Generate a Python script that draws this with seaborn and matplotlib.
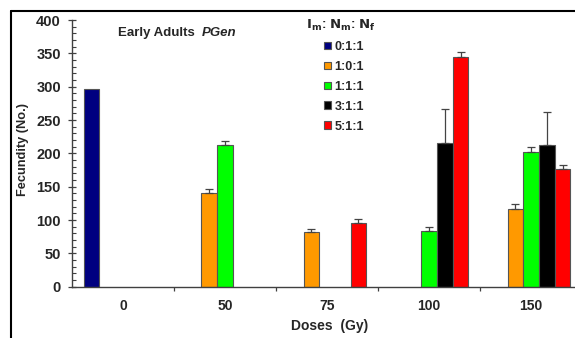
import matplotlib
matplotlib.use("Agg")
import matplotlib.pyplot as plt
from matplotlib.lines import Line2D
from matplotlib.patches import Patch
from matplotlib.ticker import MultipleLocator
import numpy as np
import pandas as pd
import seaborn as sns

# Data
doses = ["0", "50", "75", "100", "150"]
ratios = ["0:1:1", "1:0:1", "1:1:1", "3:1:1", "5:1:1"]
colors = ["#000080", "#FF9900", "#00FF00", "#000000", "#FF0000"]

fec_011 = [297, np.nan, np.nan, np.nan, np.nan]
fec_101 = [np.nan, 140, 82, np.nan, 117]
fec_111 = [np.nan, 212, np.nan, 83, 202]
fec_311 = [np.nan, np.nan, np.nan, 216, 212]
fec_511 = [np.nan, np.nan, 95, 345, 176]

err_011 = [0, np.nan, np.nan, np.nan, np.nan]
err_101 = [np.nan, 6, 5, np.nan, 7]
err_111 = [np.nan, 7, np.nan, 7, 7]
err_311 = [np.nan, np.nan, np.nan, 50, 50]
err_511 = [np.nan, np.nan, 6, 6.5, 6]

values = [fec_011, fec_101, fec_111, fec_311, fec_511]
errors = [err_011, err_101, err_111, err_311, err_511]

rows = []
for r, vals, errs in zip(ratios, values, errors):
    for d, v, e in zip(doses, vals, errs):
        if not np.isnan(v):
            rows.append({"dose": d, "ratio": r, "value": v, "err": e})
df = pd.DataFrame(rows)

sns.set_style("white")
plt.rcParams["font.family"] = ["Liberation Sans", "DejaVu Sans"]
plt.rcParams["font.weight"] = "bold"

fig = plt.figure(figsize=(5.75, 3.38), dpi=100)
ax = fig.add_axes([72 / 575, 1 - 286.7 / 338, 1 - 72 / 575, (286.7 - 20) / 338])

sns.barplot(data=df, x="dose", y="value", hue="ratio", order=doses,
            hue_order=ratios, palette=colors, saturation=1, width=0.77,
            errorbar=None, edgecolor="#555555", linewidth=0.8, legend=False, ax=ax)

# upper-only error bars on each drawn bar
for cont, r in zip(ax.containers, ratios):
    sub = df[df["ratio"] == r].set_index("dose")
    for bar in cont:
        x = bar.get_x() + bar.get_width() / 2
        d = doses[int(round(x))]
        e = sub.loc[d, "err"]
        if e > 0:
            ax.errorbar(x, bar.get_height(), yerr=[[0], [e]], fmt="none",
                        ecolor="#444444", elinewidth=0.9, capsize=3, capthick=0.9)

ax.set_xlim(-0.5, 4.43)
ax.set_ylim(0, 400)
ax.yaxis.set_major_locator(MultipleLocator(50))
ax.yaxis.set_minor_locator(MultipleLocator(10))
ax.set_xticks(np.arange(0.5, 4.5, 1), minor=False)
ax.set_xticklabels([])
ax.set_xticks(np.arange(0, 5), minor=True)
ax.set_xticklabels(doses, minor=True)

for s in ["top", "right"]:
    ax.spines[s].set_visible(False)
for s in ["left", "bottom"]:
    ax.spines[s].set_color("#404040")
    ax.spines[s].set_linewidth(1.0)

ax.tick_params(axis="y", which="major", direction="inout", length=6, width=0.9,
               color="#404040", labelsize=10.5, pad=5, left=True)
ax.tick_params(axis="y", which="minor", direction="in", length=3, width=0.8,
               color="#404040", left=True)
ax.tick_params(axis="x", which="major", direction="out", length=3, width=0.9,
               color="#404040", bottom=True)
ax.tick_params(axis="x", which="minor", length=0, labelsize=10, pad=9)
for lab in ax.get_yticklabels() + ax.get_xticklabels(minor=True):
    lab.set_fontweight("bold")

ax.set_xlabel("Doses  (Gy)", fontsize=10, fontweight="bold")
ax.set_ylabel("Fecundity (No.)", fontsize=9.2, fontweight="bold")
ax.xaxis.set_label_coords((330 - 72) / 503, -(319 - 286.7) / 266.7)
ax.yaxis.set_label_coords(-(72 - 29) / 503, (286.7 - 150) / 266.7)

fig.text(118 / 575, 1 - 33 / 338, "Early Adults", fontsize=9.5,
         fontweight="bold", va="center", ha="left")
fig.text(202 / 575, 1 - 33 / 338, "PGen", fontsize=9.5,
         fontweight="bold", fontstyle="italic", va="center", ha="left")

handles = [Patch(facecolor=c, edgecolor="#555555", linewidth=0.8) for c in colors]
fig.text(341 / 575, 1 - 25 / 338,
         r"$\mathbf{I_m}$: $\mathbf{N_m}$: $\mathbf{N_f}$",
         fontsize=9.5, fontweight="bold", ha="center", va="center")
leg = ax.legend(handles, ratios, loc="upper left",
                bbox_to_anchor=(324 / 575, 1 - 41 / 338),
                bbox_transform=fig.transFigure, frameon=False,
                prop={"weight": "bold", "size": 9}, handlelength=0.55,
                handleheight=0.55, handletextpad=0.3, labelspacing=0.63,
                borderpad=0, borderaxespad=0)

# figure frame (left and top edges visible)
fig.add_artist(Line2D([10.5 / 575, 10.5 / 575], [0, 1 - 10.5 / 338],
                      transform=fig.transFigure, color="black", linewidth=1.5))
fig.add_artist(Line2D([10.5 / 575, 1], [1 - 10.5 / 338, 1 - 10.5 / 338],
                      transform=fig.transFigure, color="black", linewidth=1.5))

fig.savefig("out.png", dpi=100)
